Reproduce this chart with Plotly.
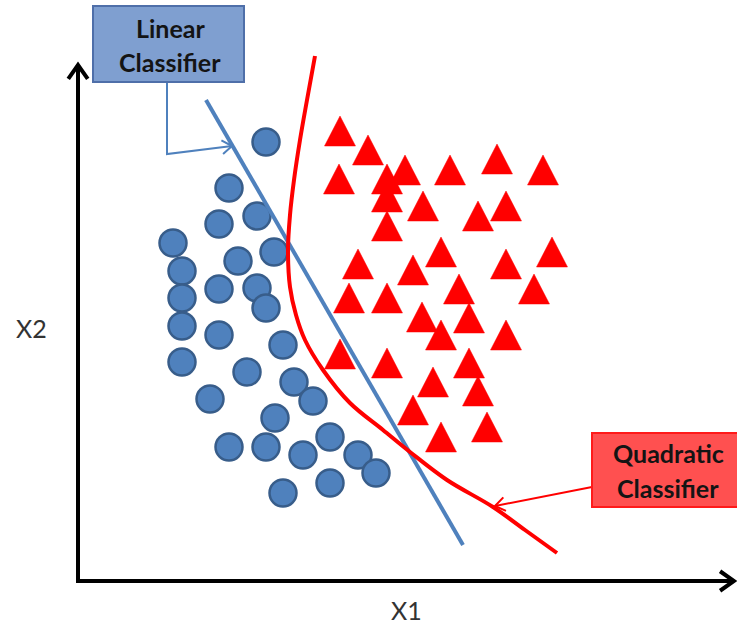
import plotly.graph_objects as go
import numpy as np

# picture is drawn in pixel-like units, y grows downwards
W, H = 737, 628

# class 1: blue circles (centre positions)
circle_x = [266, 229, 257, 219, 173, 274, 238, 182, 219, 257, 182, 266, 182, 219, 283,
            182, 247, 294, 210, 313, 275, 229, 266, 330, 303, 358, 376, 330, 283]
circle_y = [142, 188, 216, 224, 243, 252, 261, 271, 289, 288, 298, 308, 326, 335, 345,
            362, 372, 382, 399, 401, 418, 447, 447, 437, 455, 455, 473, 483, 493]

# class 2: red triangles (centre positions)
tri_x = [340, 368, 339, 405, 387, 450, 497, 543, 387, 423, 506, 478, 387, 358, 441, 506, 552,
         413, 459, 534, 349, 387, 422, 469, 441, 506, 340, 387, 469, 433, 478, 413, 487, 441]
tri_y = [131, 150, 179, 170, 179, 170, 159, 170, 197, 206, 206, 216, 226, 264, 252, 264, 252,
         270, 289, 289, 298, 298, 317, 318, 335, 335, 354, 363, 363, 382, 391, 410, 427, 437]

# decision boundaries
linear_x = [206, 463]
linear_y = [100, 545]
quad_x = [315, 307, 300, 294, 290, 288, 290, 296, 305, 323, 350, 383, 410, 447, 493, 525, 557]
quad_y = [56, 100, 140, 180, 215, 250, 287, 315, 340, 370, 403, 430, 452, 480, 507, 530, 553]

# axes
origin = (78, 581)
x_end = 734
y_end = 65

BLUE = "#4F81BD"
BLUE_EDGE = "#385D8A"
RED = "#FF0000"

fig = go.Figure()


def chevron(tip, prev, length=13, angle=35):
    d = np.array(tip, float) - np.array(prev, float)
    d = d / np.hypot(*d)
    pts = []
    for a in (angle, -angle):
        r = np.radians(a)
        rot = np.array([d[0] * np.cos(r) - d[1] * np.sin(r), d[0] * np.sin(r) + d[1] * np.cos(r)])
        pts.append(np.array(tip) - length * rot)
    return [pts[0][0], tip[0], pts[1][0]], [pts[0][1], tip[1], pts[1][1]]


def arrow(xs, ys, color, width, length=13):
    fig.add_trace(go.Scatter(x=xs, y=ys, mode="lines", line=dict(color=color, width=width),
                             hoverinfo="skip"))
    hx, hy = chevron((xs[-1], ys[-1]), (xs[-2], ys[-2]), length)
    fig.add_trace(go.Scatter(x=hx, y=hy, mode="lines", line=dict(color=color, width=width),
                             hoverinfo="skip"))


# axes with open arrow heads
arrow([origin[0], origin[0]], [origin[1] + 2, y_end], "black", 4, 17)
arrow([origin[0] - 2, x_end], [origin[1], origin[1]], "black", 4, 17)

# triangles as filled polygons
half_w, half_h = 15.5, 15
tx, ty = [], []
for cx, cy in zip(tri_x, tri_y):
    tx += [cx - half_w, cx + half_w, cx, cx - half_w, None]
    ty += [cy + half_h, cy + half_h, cy - half_h, cy + half_h, None]
fig.add_trace(go.Scatter(x=tx, y=ty, mode="lines", fill="toself", fillcolor=RED,
                         line=dict(color=RED, width=0.5), hoverinfo="skip"))

fig.add_trace(go.Scatter(x=circle_x, y=circle_y, mode="markers",
                         marker=dict(size=27, color=BLUE, line=dict(color=BLUE_EDGE, width=2.5))))

fig.add_trace(go.Scatter(x=linear_x, y=linear_y, mode="lines", line=dict(color=BLUE, width=4)))
fig.add_trace(go.Scatter(x=quad_x, y=quad_y, mode="lines", line=dict(color=RED, width=4, shape="spline")))

# callouts
arrow([167, 167, 232], [82, 154, 146], BLUE, 2, 12)
arrow([592, 495], [487, 506], RED, 2, 12)

fig.add_shape(type="rect", x0=93, y0=6, x1=244, y1=82, fillcolor="#7F9FD0",
              line=dict(color="#4F6FA9", width=2))
fig.add_shape(type="rect", x0=592, y0=433, x1=760, y1=507, fillcolor="#FF5050",
              line=dict(color="#FF1A1A", width=2))

box_font = dict(family="Lato", size=25, color="#141414")
fig.add_annotation(x=170, y=28, text="<b>Linear</b>", showarrow=False, font=box_font)
fig.add_annotation(x=170, y=62, text="<b>Classifier</b>", showarrow=False, font=box_font)
fig.add_annotation(x=668, y=453, text="<b>Quadratic</b>", showarrow=False, font=box_font)
fig.add_annotation(x=668, y=488, text="<b>Classifier</b>", showarrow=False, font=box_font)

label_font = dict(family="Lato", size=25, color="#333333")
fig.add_annotation(x=31, y=328, text="X2", showarrow=False, font=label_font)
fig.add_annotation(x=406, y=610, text="X1", showarrow=False, font=label_font)

fig.update_layout(
    width=W, height=H,
    margin=dict(l=0, r=0, t=0, b=0),
    plot_bgcolor="white", paper_bgcolor="white",
    showlegend=False,
    xaxis=dict(range=[0, W], visible=False, fixedrange=True),
    yaxis=dict(range=[H, 0], visible=False, fixedrange=True),
)

# drop the default page margin so the figure sits at the window corner
fig.write_html("out.html", config={"displayModeBar": False},
               post_script="document.body.style.margin='0';document.body.style.overflow='hidden';")
